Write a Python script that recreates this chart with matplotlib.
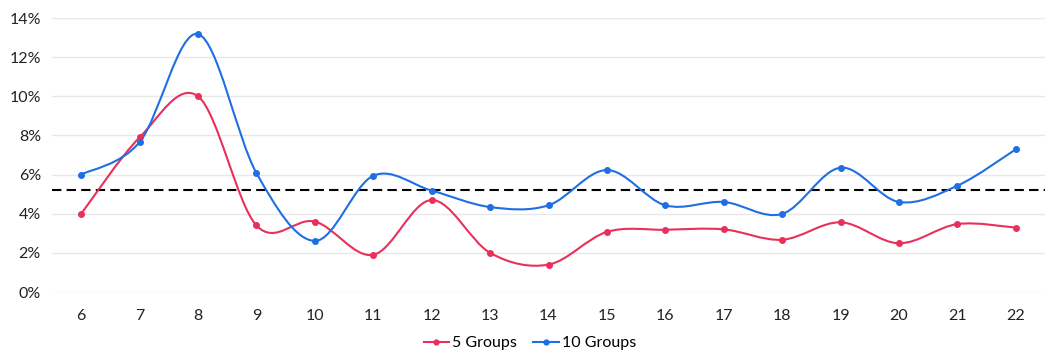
import numpy as np
import matplotlib
matplotlib.use("Agg")
import matplotlib.pyplot as plt
from matplotlib.path import Path
from matplotlib.patches import PathPatch
from matplotlib.lines import Line2D

x_vals = [6, 7, 8, 9, 10, 11, 12, 13, 14, 15, 16, 17, 18, 19, 20, 21, 22]
groups5 = [4.0, 7.9, 10.0, 3.4, 3.6, 1.9, 4.7, 2.0, 1.4, 3.07, 3.18, 3.2, 2.67, 3.56, 2.49, 3.47, 3.29]
groups10 = [6.0, 7.66, 13.18, 6.08, 2.61, 5.94, 5.18, 4.34, 4.43, 6.23, 4.43, 4.6, 3.99, 6.35, 4.6, 5.43, 7.29]
threshold = 5.2
y_ticks = [0, 2, 4, 6, 8, 10, 12, 14]
series_names = ["5 Groups", "10 Groups"]
colors = ["#E8305A", "#1F6FE3"]

plt.rcParams['font.family'] = ['Lato', 'DejaVu Sans']

fig = plt.figure(figsize=(10.56, 3.62), dpi=100)
ax = fig.add_axes([52/1056, 1 - 292/362, (1045-52)/1056, (292-18)/362])


def smooth_path(xs, ys, t=1/6):
    xs = np.asarray(xs, float); ys = np.asarray(ys, float)
    n = len(xs)
    verts = [(xs[0], ys[0])]
    codes = [Path.MOVETO]
    for i in range(n - 1):
        p0 = (xs[max(i-1, 0)], ys[max(i-1, 0)])
        p1 = (xs[i], ys[i])
        p2 = (xs[i+1], ys[i+1])
        p3 = (xs[min(i+2, n-1)], ys[min(i+2, n-1)])
        c1 = (p1[0] + (p2[0]-p0[0])*t, p1[1] + (p2[1]-p0[1])*t)
        c2 = (p2[0] - (p3[0]-p1[0])*t, p2[1] - (p3[1]-p1[1])*t)
        verts += [c1, c2, p2]
        codes += [Path.CURVE4]*3
    return Path(verts, codes)

handles = []
for ys, c, name in zip([groups5, groups10], colors, series_names):
    ax.add_patch(PathPatch(smooth_path(x_vals, ys), facecolor='none', edgecolor=c, lw=1.5, zorder=3))
    ax.plot(x_vals, ys, linestyle='none', marker='o', markersize=4, color=c, zorder=4)
    handles.append(Line2D([0], [0], color=c, lw=1.5, marker='o', markersize=3.5, label=name))

ax.axhline(threshold, color='black', lw=1.5, linestyle=(0, (4.5, 2.5)), zorder=2)

ax.set_xlim(5.5, 22.5)
ax.set_ylim(0, 14)
ax.set_xticks(x_vals)
ax.set_xticklabels([str(v) for v in x_vals])
ax.set_yticks(y_ticks)
ax.set_yticklabels([f"{v}%" for v in y_ticks])
ax.grid(axis='y', color='#E8E8E8', lw=1)
ax.set_axisbelow(True)
for s in ax.spines.values():
    s.set_visible(False)
ax.tick_params(axis='both', length=0, labelsize=11.5, colors='#222222')
ax.tick_params(axis='x', pad=12)
ax.tick_params(axis='y', pad=8)

fig.legend(handles=handles, loc='center', bbox_to_anchor=(530/1056, 1 - 343/362), ncol=2,
           frameon=False, fontsize=11.5, handlelength=1.6, handletextpad=0.2, columnspacing=1.0)

fig.savefig("out.png", dpi=100)
